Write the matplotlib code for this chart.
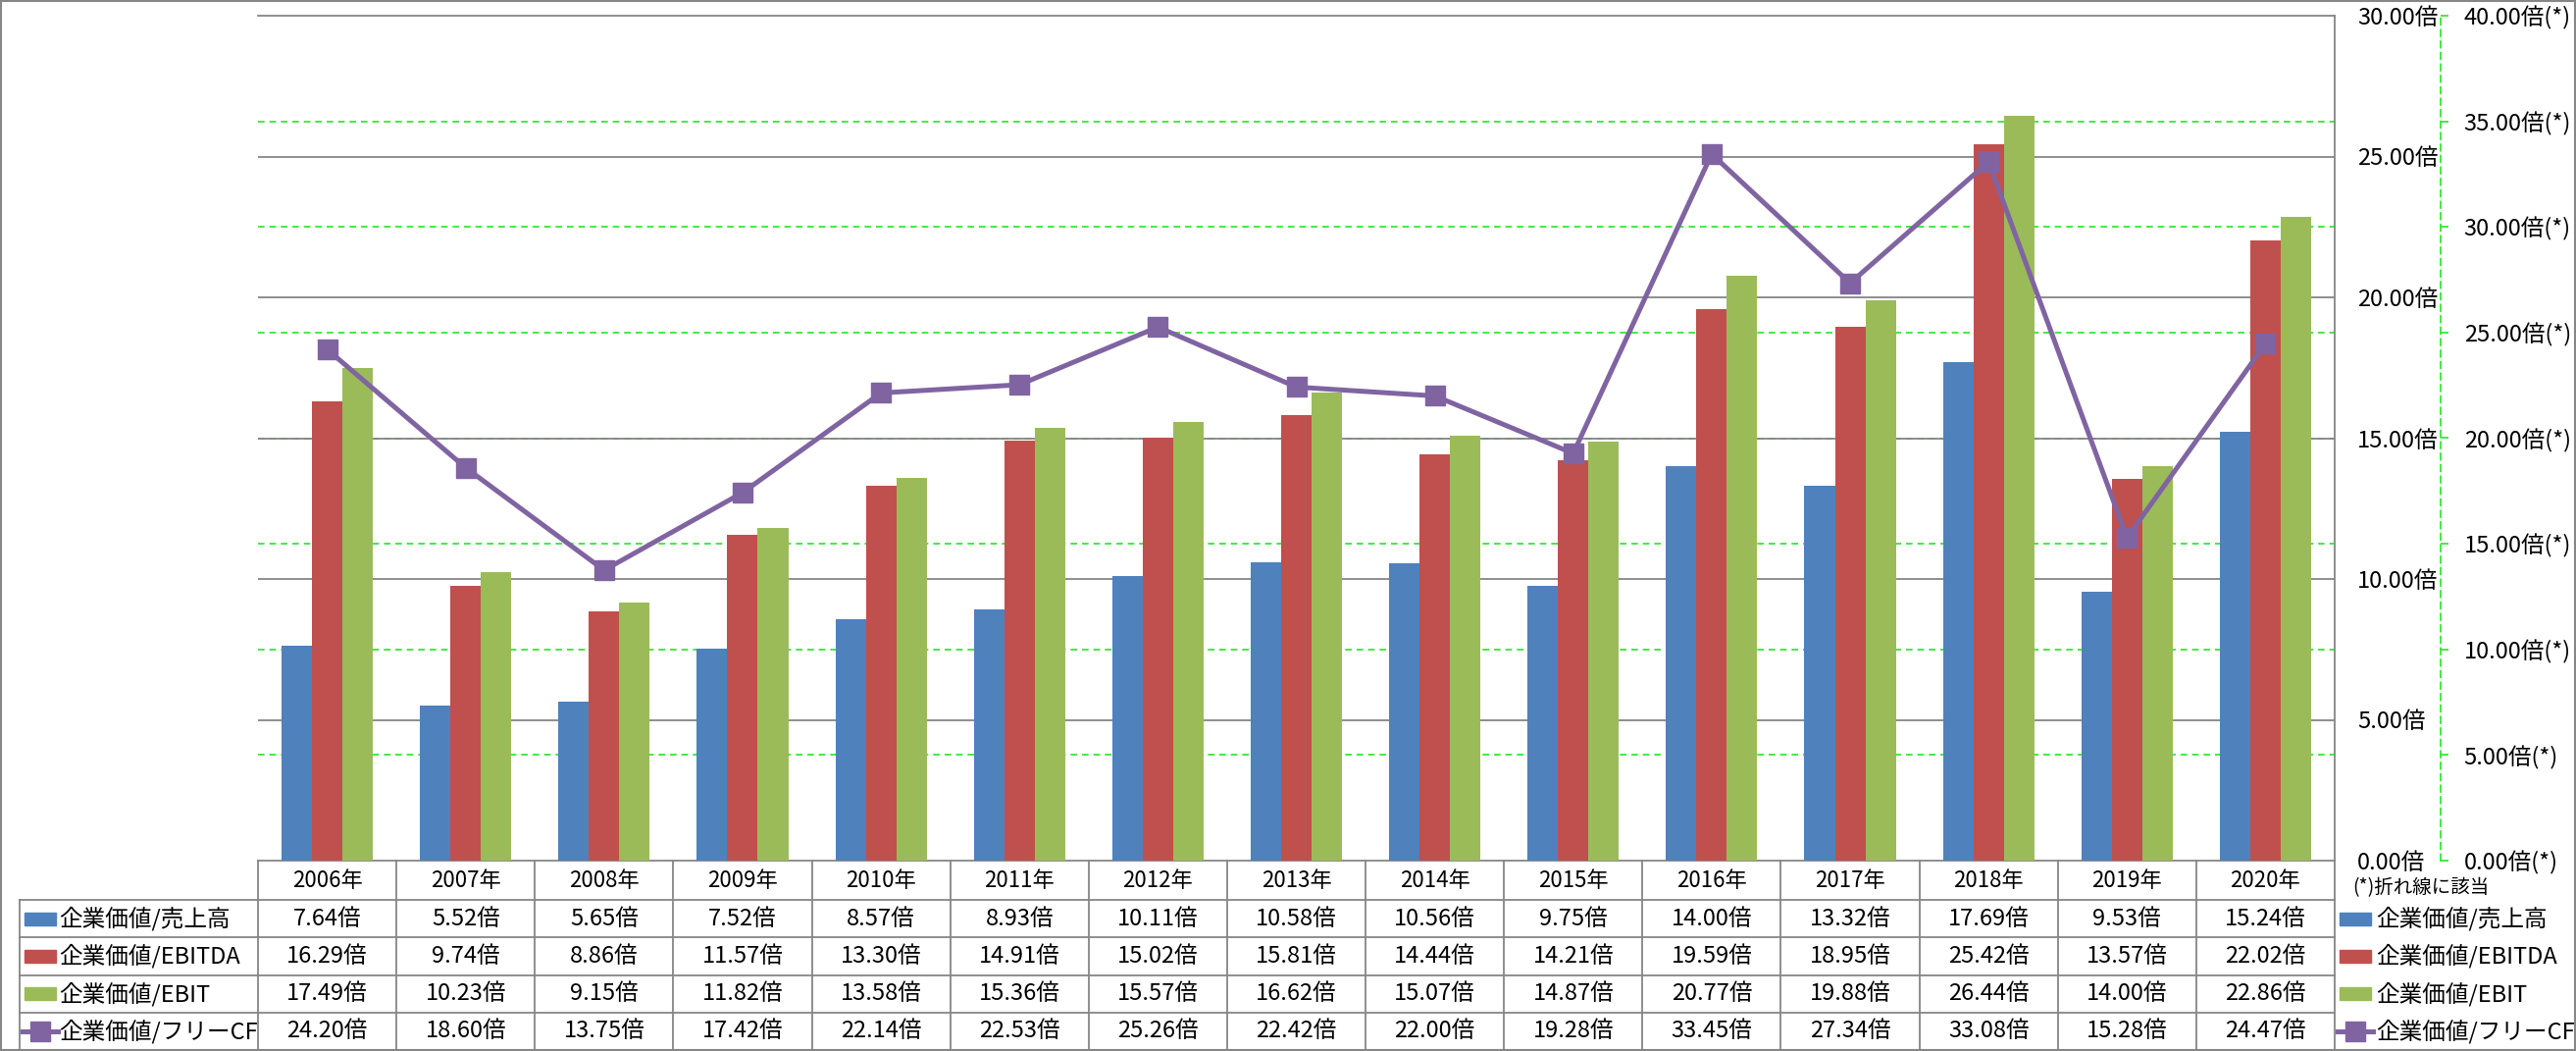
import matplotlib

matplotlib.use("Agg")
import matplotlib.pyplot as plt
import numpy as np
from matplotlib.lines import Line2D
from matplotlib.patches import Rectangle
from matplotlib.transforms import blended_transform_factory

plt.rcParams["font.family"] = ["Noto Sans CJK JP", "DejaVu Sans"]

years = ["2006年", "2007年", "2008年", "2009年", "2010年", "2011年", "2012年", "2013年",
         "2014年", "2015年", "2016年", "2017年", "2018年", "2019年", "2020年"]
ev_sales = [7.64, 5.52, 5.65, 7.52, 8.57, 8.93, 10.11, 10.58, 10.56, 9.75, 14.00, 13.32, 17.69, 9.53, 15.24]
ev_ebitda = [16.29, 9.74, 8.86, 11.57, 13.30, 14.91, 15.02, 15.81, 14.44, 14.21, 19.59, 18.95, 25.42, 13.57, 22.02]
ev_ebit = [17.49, 10.23, 9.15, 11.82, 13.58, 15.36, 15.57, 16.62, 15.07, 14.87, 20.77, 19.88, 26.44, 14.00, 22.86]
ev_fcf = [24.20, 18.60, 13.75, 17.42, 22.14, 22.53, 25.26, 22.42, 22.00, 19.28, 33.45, 27.34, 33.08, 15.28, 24.47]

names = ["企業価値/売上高", "企業価値/EBITDA", "企業価値/EBIT", "企業価値/フリーCF"]
colors = ["#4F81BD", "#C0504D", "#9BBB59", "#8064A2"]
grid_grey = "#868686"
green = "#22E622"

W, H = 2626, 1071
fig = plt.figure(figsize=(W / 100, H / 100), dpi=100)


def fy(px):  # pixel from top -> figure fraction
    return 1 - px / H


def fx(px):
    return px / W


left, right, top, bottom = 263, 2380, 16, 877
ax = fig.add_axes([fx(left), fy(bottom), fx(right - left), (bottom - top) / H])
x = np.arange(len(years))
bw = 0.22
for k, vals in enumerate([ev_sales, ev_ebitda, ev_ebit]):
    ax.bar(x + (k - 1) * bw, vals, width=bw, color=colors[k], zorder=3)
ax.set_xlim(-0.5, len(years) - 0.5)
ax.set_ylim(0, 30)
ax.set_xticks([])
# secondary-axis gridlines (0-40 scale) drawn behind the bars
for v in np.arange(5, 40, 5):
    ax.axhline(v * 30 / 40, color=green, lw=1.2, ls=(0, (4, 3)), zorder=1)
for v in np.arange(5, 30, 5):
    ax.axhline(v, color=grid_grey, lw=1.3, zorder=1.5)
ax.spines["left"].set_visible(False)
for s in ["right", "top", "bottom"]:
    ax.spines[s].set_color(grid_grey)
    ax.spines[s].set_linewidth(1.3)

ax2 = ax.twinx()
ax2.plot(x, ev_fcf, "-s", color=colors[3], lw=3.6, markersize=15, zorder=5)
ax2.set_ylim(0, 40)
ax2.set_xticks([])
ax2.set_yticks(np.arange(0, 41, 5))
ax2.set_yticklabels([f"{v:.2f}倍(*)" for v in np.arange(0, 41, 5)])
for s in ["left", "top", "bottom"]:
    ax2.spines[s].set_visible(False)
ax2.spines["right"].set_position(("outward", 77.8))
ax2.spines["right"].set_color(green)
ax2.spines["right"].set_linestyle((0, (4, 3)))
ax2.spines["right"].set_linewidth(1.2)
ax2.tick_params(axis="y", length=6, width=1.2, color=green, pad=11, labelsize=17)

# primary axis labels sit just right of the plot (set after twinx, which resets them)
ax.set_yticks(np.arange(0, 31, 5))
ax.set_yticklabels([f"{v:.2f}倍" for v in np.arange(0, 31, 5)])
ax.yaxis.tick_right()
ax.tick_params(axis="y", length=0, pad=16.5, labelsize=17)

# data table below the plot
tr = blended_transform_factory(ax.transData, fig.transFigure)
hdr_top, hdr_bot = 877, 917
row_edges = [917, 955.3, 993.6, 1031.9, 1070]
row_centers = [(a + b) / 2 for a, b in zip(row_edges[:-1], row_edges[1:])]
lc = dict(color=grid_grey, lw=1.3)

for i in range(len(years) + 1):
    fig.add_artist(Line2D([i - 0.5, i - 0.5], [fy(hdr_top), fy(1070)], transform=tr, **lc))
for y in row_edges:
    fig.add_artist(Line2D([fx(20), fx(right)], [fy(y), fy(y)], transform=fig.transFigure, **lc))
fig.add_artist(Line2D([fx(20), fx(20)], [fy(hdr_bot), fy(1070)], transform=fig.transFigure, **lc))

for i, yr in enumerate(years):
    fig.text(i, fy((hdr_top + hdr_bot) / 2), yr, transform=tr, ha="center", va="center", fontsize=16)
for r, vals in enumerate([ev_sales, ev_ebitda, ev_ebit, ev_fcf]):
    for i, v in enumerate(vals):
        fig.text(i, fy(row_centers[r]), f"{v:.2f}倍", transform=tr, ha="center", va="center", fontsize=17)


def legend_key(x0, yc, k):
    if k < 3:
        fig.add_artist(Rectangle((fx(x0), fy(yc + 6.5)), fx(32), 13 / H,
                                 transform=fig.transFigure, color=colors[k]))
    else:
        fig.add_artist(Line2D([fx(x0 - 2), fx(x0 + 34)], [fy(yc), fy(yc)], transform=fig.transFigure,
                              color=colors[3], lw=3.6))
        fig.add_artist(Line2D([fx(x0 + 16)], [fy(yc)], transform=fig.transFigure, marker="s",
                              markersize=15, color=colors[3]))


for r, name in enumerate(names):
    legend_key(25, row_centers[r], r)
    fig.text(fx(60), fy(row_centers[r]), name, ha="left", va="center", fontsize=17)
    legend_key(2385, row_centers[r], r)
    fig.text(fx(2422), fy(row_centers[r]), name, ha="left", va="center", fontsize=17)

fig.text(fx(2398), fy(905), "(*)折れ線に該当", ha="left", va="center", fontsize=14)

fig.add_artist(Rectangle((0.0005, 0.001), 0.999, 0.998, transform=fig.transFigure,
                         fill=False, edgecolor=grid_grey, lw=1.5))

fig.savefig("out.png", dpi=100)
plt.close(fig)
